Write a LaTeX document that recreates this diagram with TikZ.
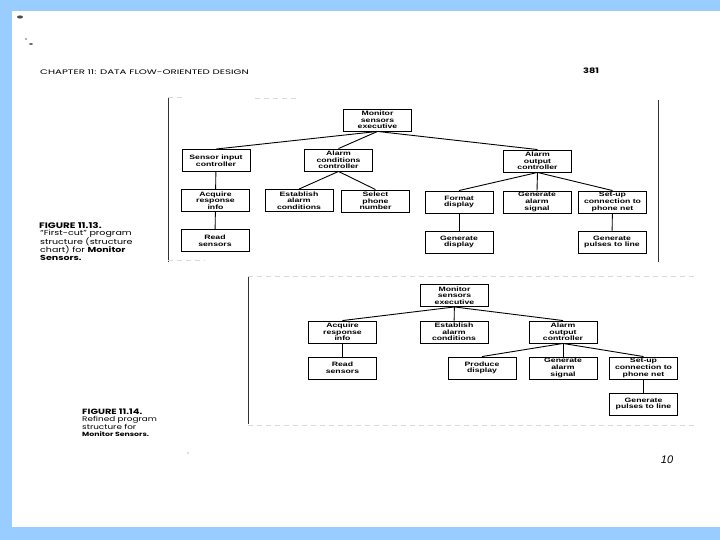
\documentclass[tikz,border=0pt]{standalone}
\usepackage{fontspec}
\setmainfont{Liberation Sans}
\newfontfamily\boxfont[FakeStretch=1.38]{Liberation Sans}
\newfontfamily\capfont[FakeStretch=1.3]{Poppins}
\newfontfamily\hdrfont[FakeStretch=1.55]{Poppins}
\definecolor{frameblue}{HTML}{99CCFF}
\begin{document}
\begin{tikzpicture}[x=1pt,y=-1pt,
  box/.style={draw,line width=0.9pt,minimum width=68pt,minimum height=22pt,inner sep=0pt,align=center,
    font=\boxfont\bfseries\fontsize{6.3}{6.6}\selectfont},
  link/.style={line width=0.9pt},
  faint/.style={gray!30,line width=0.4pt,dash pattern=on 5pt off 4pt},
  frameline/.style={black!80,line width=0.7pt},
  captxt/.style={anchor=west,inner sep=0pt,font=\capfont\fontsize{7.3}{7.5}\selectfont}]
\useasboundingbox (0,0) rectangle (720,540);
\fill[frameblue] (0,0) rectangle (720,540);
\fill[white] (12,11) rectangle (720,527);

% scan marks
\fill[black!70] (20,17) ellipse (3pt and 1.6pt);
\fill[black!60] (26,39) circle (0.8pt);
\fill[black!70] (31,44) ellipse (2pt and 0.8pt);
\fill[black!50] (188,453) circle (0.6pt);

% header
\node[anchor=west,inner sep=0pt,font=\hdrfont\fontsize{6.6}{7}\selectfont] (hdr) at (40,72) {CHAPTER 11: DATA FLOW-ORIENTED DESIGN};
\node[anchor=west,inner sep=0pt,font=\capfont\bfseries\fontsize{7.5}{8}\selectfont] (pg) at (583,71) {381};

% figure 11.13 frame
\draw[frameline] (168,97) -- (168,262);
\draw[frameline] (658,100) -- (658,262);
\draw[faint] (168,97) -- (186,97);
\draw[faint] (255,98) -- (298,98);
\draw[faint] (168,260) -- (205,260);

% figure 11.13 nodes
\node[box] (m1) at (377.5,120) {Monitor\\sensors\\executive};
\node[box] (sic) at (216,160.5) {Sensor input\\controller};
\node[box] (acc) at (338.5,160) {Alarm\\conditions\\controller};
\node[box] (aoc) at (537.5,161) {Alarm\\output\\controller};
\node[box] (ari) at (215.5,200.5) {Acquire\\response\\info};
\node[box] (eac) at (299,200.5) {Establish\\alarm\\conditions};
\node[box] (spn) at (375.5,201) {Select\\phone\\number};
\node[box] (rs1) at (215,240.5) {Read\\sensors};
\node[box] (fd) at (459,202) {Format\\display};
\node[box] (gas) at (537,202) {Generate\\alarm\\signal};
\node[box] (scp) at (612.5,202) {Set-up\\connection to\\phone net};
\node[box] (gd) at (459,242) {Generate\\display};
\node[box] (gpl) at (612,242) {Generate\\pulses to line};

\draw[link] (m1.south) -- (sic.north);
\draw[link] (m1.south) -- (acc.north);
\draw[link] (m1.south) -- (aoc.north);
\draw[link] (sic) -- (ari);
\draw[link] (ari) -- (rs1);
\draw[link] (acc.south) -- (eac.north);
\draw[link] (acc.south) -- (spn.north);
\draw[link] (aoc.south) -- (fd.north);
\draw[link] (aoc.south) -- (gas.north);
\draw[link] (aoc.south) -- (scp.north);
\draw[link] (fd) -- (gd);
\draw[link] (scp) -- (gpl);

% figure 11.13 caption
\node[captxt,font=\capfont\bfseries\fontsize{8}{8}\selectfont] (c1a) at (39,226) {FIGURE 11.13.};
\node[captxt] (c1b) at (40,234) {“First-cut” program};
\node[captxt] (c1c) at (40,242) {structure (structure};
\node[captxt] (c1d) at (40,250) {chart) for \textbf{Monitor}};
\node[captxt] (c1e) at (40,258) {\textbf{Sensors.}};

% figure 11.14 frame
\draw[frameline] (248,276) -- (248,424);
\draw[faint] (248,276) -- (695,276);
\draw[faint] (248,425) -- (695,425);

% figure 11.14 nodes
\node[box] (m2) at (454.5,295.5) {Monitor\\sensors\\executive};
\node[box] (ari2) at (342.5,332) {Acquire\\response\\info};
\node[box] (eac2) at (454,332) {Establish\\alarm\\conditions};
\node[box] (aoc2) at (563,332) {Alarm\\output\\controller};
\node[box] (rs2) at (342.5,368) {Read\\sensors};
\node[box] (pd) at (482,368) {Produce\\display};
\node[box] (gas2) at (563,368) {Generate\\alarm\\signal};
\node[box] (scp2) at (643.5,368) {Set-up\\connection to\\phone net};
\node[box] (gpl2) at (643.5,404) {Generate\\pulses to line};

\draw[link] (m2.south) -- (ari2.north);
\draw[link] (m2) -- (eac2);
\draw[link] (m2.south) -- (aoc2.north);
\draw[link] (ari2) -- (rs2);
\draw[link] (aoc2.south) -- (pd.north);
\draw[link] (aoc2) -- (gas2);
\draw[link] (aoc2.south) -- (scp2.north);
\draw[link] (scp2) -- (gpl2);

% figure 11.14 caption
\node[captxt,font=\capfont\bfseries\fontsize{7.6}{8}\selectfont] (c2a) at (82,412) {FIGURE 11.14.};
\node[captxt,font=\capfont\fontsize{6.8}{7}\selectfont] (c2b) at (82,419.5) {Refined program};
\node[captxt,font=\capfont\fontsize{6.8}{7}\selectfont] (c2c) at (82,427) {structure for};
\node[captxt,font=\capfont\bfseries\fontsize{6}{7}\selectfont] (c2d) at (82,434.5) {Monitor Sensors.};

% handwritten page mark
\node[inner sep=0pt,font=\itshape\fontsize{11}{12}\selectfont] (hw) at (667,460) {10};
\end{tikzpicture}
\end{document}
